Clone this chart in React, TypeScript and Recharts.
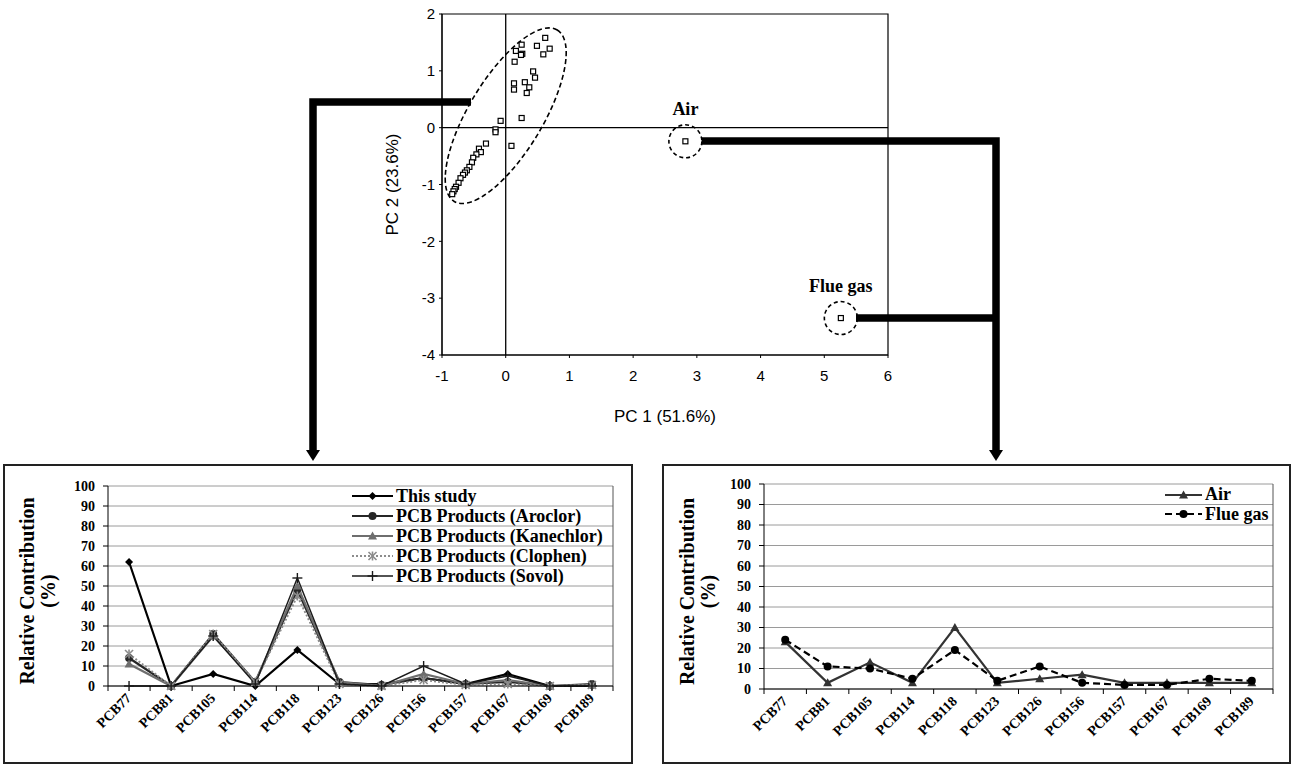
import React from "react";
import {
  ScatterChart,
  Scatter,
  LineChart,
  Line,
  XAxis,
  YAxis,
  CartesianGrid,
  ReferenceLine,
  ReferenceDot,
  ReferenceArea,
  Legend,
} from "recharts";

// PCA scores
const pc1Scores = [
  0.62, 0.49, 0.69, 0.25, 0.16, 0.26, 0.24, 0.14, 0.59, 0.43, 0.46, 0.13, 0.13,
  0.3, 0.37, 0.33, 0.25, -0.08, -0.16, -0.16, 0.09, -0.31, -0.42, -0.39, -0.46,
  -0.51, -0.53, -0.57, -0.61, -0.64, -0.67, -0.71, -0.74, -0.78, -0.8, -0.82,
  -0.84,
];
const pc2Scores = [
  1.58, 1.44, 1.39, 1.46, 1.35, 1.3, 1.28, 1.16, 1.29, 0.99, 0.88, 0.78, 0.67,
  0.8, 0.71, 0.61, 0.17, 0.12, -0.03, -0.08, -0.32, -0.28, -0.37, -0.43, -0.47,
  -0.53, -0.61, -0.69, -0.75, -0.79, -0.83, -0.89, -0.97, -1.04, -1.08, -1.12,
  -1.17,
];
const airScore = { x: 2.82, y: -0.24 };
const flueGasScore = { x: 5.26, y: -3.35 };
const clusterCenter = { x: 0, y: 0.21 };
const pc1Ticks = [-1, 0, 1, 2, 3, 4, 5, 6];
const pc2Ticks = [-4, -3, -2, -1, 0, 1, 2];

// congener profiles (%)
const congeners = [
  "PCB77", "PCB81", "PCB105", "PCB114", "PCB118", "PCB123",
  "PCB126", "PCB156", "PCB157", "PCB167", "PCB169", "PCB189",
];
const thisStudy = [62, 0, 6, 0, 18, 1, 1, 4, 1, 6, 0, 0];
const aroclor = [14, 0, 26, 2, 48, 2, 0.5, 4, 1, 2, 0, 1];
const kanechlor = [11, 0, 25, 2, 50, 2, 0, 6, 1, 3, 0, 0.5];
const clophen = [16, 0, 26, 2, 45, 1, 0, 3, 0.5, 1, 0, 0.5];
const sovol = [0, 0, 25, 1, 54, 1, 0, 10, 1, 5, 0, 0];
const airProfile = [23, 3, 13, 3, 30, 3, 5, 7, 3, 3, 3, 3];
const flueGasProfile = [24, 11, 10, 5, 19, 4, 11, 3, 2, 2, 5, 4];
const pctTicks = [0, 10, 20, 30, 40, 50, 60, 70, 80, 90, 100];

const SERIF = '"Liberation Serif", "Times New Roman", serif';
const SANS = '"Liberation Sans", Arial, sans-serif';

type MarkerKind = "diamond" | "circle" | "triangle" | "star" | "plus";

interface SeriesDef {
  key: string;
  label: string;
  values: number[];
  color: string;
  width: number;
  dash?: string;
  marker: MarkerKind;
}

const leftSeries: SeriesDef[] = [
  { key: "thisStudy", label: "This study", values: thisStudy, color: "#000", width: 2.2, marker: "diamond" },
  { key: "aroclor", label: "PCB Products (Aroclor)", values: aroclor, color: "#262626", width: 2.2, marker: "circle" },
  { key: "kanechlor", label: "PCB Products (Kanechlor)", values: kanechlor, color: "#6e6e6e", width: 2.2, marker: "triangle" },
  { key: "clophen", label: "PCB Products (Clophen)", values: clophen, color: "#8c8c8c", width: 2, dash: "2 2", marker: "star" },
  { key: "sovol", label: "PCB Products (Sovol)", values: sovol, color: "#1a1a1a", width: 1.4, marker: "plus" },
];

const rightSeries: SeriesDef[] = [
  { key: "air", label: "Air", values: airProfile, color: "#333", width: 2.2, marker: "triangle" },
  { key: "flueGas", label: "Flue gas", values: flueGasProfile, color: "#000", width: 2.2, dash: "7 4", marker: "circle" },
];

function Marker({ kind, cx, cy, color }: { kind: MarkerKind; cx: number; cy: number; color: string }) {
  if (cx == null || cy == null) return null;
  switch (kind) {
    case "diamond":
      return <polygon points={`${cx},${cy - 4} ${cx + 4},${cy} ${cx},${cy + 4} ${cx - 4},${cy}`} fill={color} />;
    case "circle":
      return <circle cx={cx} cy={cy} r={4} fill={color} />;
    case "triangle":
      return <polygon points={`${cx},${cy - 4.5} ${cx + 4.5},${cy + 3.5} ${cx - 4.5},${cy + 3.5}`} fill={color} />;
    case "star":
      return (
        <g stroke={color} strokeWidth={1.6}>
          <line x1={cx - 4} y1={cy - 4} x2={cx + 4} y2={cy + 4} />
          <line x1={cx - 4} y1={cy + 4} x2={cx + 4} y2={cy - 4} />
          <line x1={cx} y1={cy - 4.5} x2={cx} y2={cy + 4.5} />
        </g>
      );
    default:
      return (
        <g stroke={color} strokeWidth={1.4}>
          <line x1={cx - 5} y1={cy} x2={cx + 5} y2={cy} />
          <line x1={cx} y1={cy - 5} x2={cx} y2={cy + 5} />
        </g>
      );
  }
}

function SeriesLegend({ series, sampleWidth, rowHeight }: { series: SeriesDef[]; sampleWidth: number; rowHeight: number }) {
  return (
    <div style={{ fontFamily: SERIF, fontWeight: "bold", fontSize: 18, color: "#000" }}>
      {series.map((s) => (
        <div key={s.key} style={{ display: "flex", alignItems: "center", height: rowHeight, whiteSpace: "nowrap" }}>
          <svg width={sampleWidth} height={12} style={{ display: "block" }}>
            <line x1={0} x2={sampleWidth} y1={6} y2={6} stroke={s.color} strokeWidth={s.width} strokeDasharray={s.dash} />
            <Marker kind={s.marker} cx={sampleWidth / 2} cy={6} color={s.color} />
          </svg>
          <span style={{ marginLeft: 3, lineHeight: `${rowHeight}px` }}>{s.label}</span>
        </div>
      ))}
    </div>
  );
}

const CHART_W = 627;
const CHART_H = 298;
const Y_AXIS_W = 45;

interface ProfileProps {
  series: SeriesDef[];
  margin: { top: number; right: number; bottom: number; left: number };
  legendLeft: number;
  legendTop: number;
  rowHeight: number;
  sampleWidth: number;
  titleLines: [number, number];
}

function ProfileChart({ series, margin, legendLeft, legendTop, rowHeight, sampleWidth, titleLines }: ProfileProps) {
  const data = congeners.map((name, i) => {
    const row: Record<string, string | number> = { name };
    series.forEach((s) => {
      row[s.key] = s.values[i];
    });
    return row;
  });
  const plotWidth = CHART_W - margin.left - margin.right - Y_AXIS_W;
  const band = plotWidth / congeners.length;

  const renderTick = (props: any) => {
    const { x, y, payload, index } = props;
    const tx = x + 3;
    const ty = y + 13;
    return (
      <g>
        <line x1={x - band / 2} x2={x - band / 2} y1={y} y2={y + 5} stroke="#000" />
        {index === congeners.length - 1 && (
          <line x1={x + band / 2} x2={x + band / 2} y1={y} y2={y + 5} stroke="#000" />
        )}
        <text
          x={tx}
          y={ty}
          transform={`rotate(-45 ${tx} ${ty})`}
          textAnchor="end"
          fontFamily={SERIF}
          fontWeight="bold"
          fontSize={14}
          fill="#000"
        >
          {payload.value}
        </text>
      </g>
    );
  };

  const renderTitle = (props: any) => {
    const vb = props.viewBox || { y: margin.top, height: CHART_H - margin.top - margin.bottom - 40 };
    const cy = vb.y + vb.height / 2 + 5;
    const [x1, x2] = titleLines;
    return (
      <g fontFamily={SERIF} fontWeight="bold" fontSize={20} fill="#000">
        <text x={x1} y={cy} transform={`rotate(-90 ${x1} ${cy})`} textAnchor="middle">
          Relative Contribution
        </text>
        <text x={x2} y={cy} transform={`rotate(-90 ${x2} ${cy})`} textAnchor="middle">
          (%)
        </text>
      </g>
    );
  };

  return (
    <LineChart width={CHART_W} height={CHART_H} data={data} margin={margin}>
      <CartesianGrid vertical={false} stroke="#9a9a9a" />
      <CartesianGrid
        horizontal={false}
        stroke="#555"
        verticalCoordinatesGenerator={({ offset }: any) => [offset.left + offset.width]}
      />
      <XAxis
        dataKey="name"
        interval={0}
        padding={{ left: band / 2, right: band / 2 }}
        tickLine={false}
        tickSize={0}
        tickMargin={0}
        height={40}
        stroke="#000"
        tick={renderTick}
      />
      <YAxis
        domain={[0, 100]}
        ticks={pctTicks}
        interval={0}
        width={Y_AXIS_W}
        tickSize={5}
        tickMargin={8}
        stroke="#000"
        tick={{ fill: "#000", fontFamily: SERIF, fontWeight: "bold", fontSize: 14 }}
        label={renderTitle}
      />
      {series.map((s) => (
        <Line
          key={s.key}
          dataKey={s.key}
          stroke={s.color}
          strokeWidth={s.width}
          strokeDasharray={s.dash}
          dot={(p: any) => <Marker key={`${s.key}-${p.index}`} kind={s.marker} cx={p.cx} cy={p.cy} color={s.color} />}
          activeDot={false}
          isAnimationActive={false}
        />
      ))}
      <Legend
        layout="horizontal"
        verticalAlign="middle"
        align="center"
        wrapperStyle={{ left: legendLeft, top: legendTop, width: "auto" }}
        content={() => <SeriesLegend series={series} sampleWidth={sampleWidth} rowHeight={rowHeight} />}
      />
    </LineChart>
  );
}

const openSquare = (p: any) => (
  <rect x={p.cx - 2.5} y={p.cy - 2.5} width={5} height={5} fill="#fff" stroke="#000" strokeWidth={1.2} />
);

const ringShape = (label: string) => (p: any) => (
  <g>
    <circle cx={p.cx} cy={p.cy} r={16.5} fill="none" stroke="#000" strokeWidth={1.6} strokeDasharray="4 3" />
    <text x={p.cx} y={p.cy - 26} textAnchor="middle" fontFamily={SERIF} fontWeight="bold" fontSize={18} fill="#000">
      {label}
    </text>
  </g>
);

const clusterShape = (p: any) => (
  <ellipse
    cx={p.cx}
    cy={p.cy}
    rx={100}
    ry={37}
    transform={`rotate(-59 ${p.cx} ${p.cy})`}
    fill="none"
    stroke="#000"
    strokeWidth={1.6}
    strokeDasharray="5 3"
  />
);

function ScoresPlot() {
  const scores = [
    ...pc1Scores.map((x, i) => ({ x, y: pc2Scores[i] })),
    airScore,
    flueGasScore,
  ];
  return (
    <ScatterChart width={620} height={440} margin={{ top: 14, right: 32, bottom: 55, left: 92 }}>
      <XAxis
        type="number"
        dataKey="x"
        domain={[-1, 6]}
        ticks={pc1Ticks}
        interval={0}
        height={30}
        tickSize={3}
        tickMargin={12}
        stroke="#000"
        tick={{ fill: "#000", fontFamily: SANS, fontSize: 15 }}
        label={(props: any) => {
          const vb = props.viewBox;
          return (
            <text x={vb.x + vb.width / 2} y={vb.y + 67} textAnchor="middle" fontFamily={SANS} fontSize={17} fill="#000">
              PC 1 (51.6%)
            </text>
          );
        }}
      />
      <YAxis
        type="number"
        dataKey="y"
        domain={[-4, 2]}
        ticks={pc2Ticks}
        interval={0}
        width={50}
        tickSize={3}
        tickMargin={4}
        stroke="#000"
        tick={{ fill: "#000", fontFamily: SANS, fontSize: 15 }}
        label={(props: any) => {
          const vb = props.viewBox;
          const cx = vb.x + 6;
          const cy = vb.y + vb.height / 2;
          return (
            <text x={cx} y={cy} transform={`rotate(-90 ${cx} ${cy})`} textAnchor="middle" fontFamily={SANS} fontSize={17} fill="#000">
              PC 2 (23.6%)
            </text>
          );
        }}
      />
      <ReferenceArea x1={-1} x2={6} y1={-4} y2={2} fill="none" stroke="#000" strokeWidth={1.2} fillOpacity={0} />
      <ReferenceLine x={0} stroke="#000" strokeWidth={1.3} />
      <ReferenceLine y={0} stroke="#000" strokeWidth={1.3} />
      <ReferenceDot x={clusterCenter.x} y={clusterCenter.y} shape={clusterShape} />
      <ReferenceDot x={airScore.x} y={airScore.y} shape={ringShape("Air")} />
      <ReferenceDot x={flueGasScore.x} y={flueGasScore.y} shape={ringShape("Flue gas")} />
      <Scatter data={scores} shape={openSquare} isAnimationActive={false} />
    </ScatterChart>
  );
}

export default function App() {
  return (
    <div style={{ position: "absolute", left: 0, top: 0, width: 1292, height: 765, background: "#fff", overflow: "hidden" }}>
      <div style={{ position: "absolute", left: 300, top: 0 }}>
        <ScoresPlot />
      </div>

      <div style={{ position: "absolute", left: 5, top: 465 }}>
        <ProfileChart
          series={leftSeries}
          margin={{ top: 21, right: 19, bottom: 37, left: 58 }}
          legendLeft={347}
          legendTop={21}
          rowHeight={20}
          sampleWidth={41}
          titleLines={[29, 50]}
        />
      </div>
      <div style={{ position: "absolute", left: 663, top: 465 }}>
        <ProfileChart
          series={rightSeries}
          margin={{ top: 19, right: 17, bottom: 34, left: 56 }}
          legendLeft={502}
          legendTop={20}
          rowHeight={19.5}
          sampleWidth={37}
          titleLines={[31, 52]}
        />
      </div>

      <div style={{ position: "absolute", left: 3, top: 464, width: 630, height: 300, border: "2px solid #222", boxSizing: "border-box" }} />
      <div style={{ position: "absolute", left: 662, top: 464, width: 629, height: 300, border: "2px solid #222", boxSizing: "border-box" }} />

      {/* connector arrows */}
      <svg width={1292} height={765} style={{ position: "absolute", left: 0, top: 0, pointerEvents: "none" }}>
        <g stroke="#000" strokeWidth={7.5} fill="none">
          <path d="M 471 102 H 313 V 452" />
          <path d="M 702 141 H 996 V 452" />
          <path d="M 856 318 H 996" />
        </g>
        <polygon points="306,450 320,450 313,461" fill="#000" />
        <polygon points="989,450 1003,450 996,461" fill="#000" />
      </svg>
    </div>
  );
}
